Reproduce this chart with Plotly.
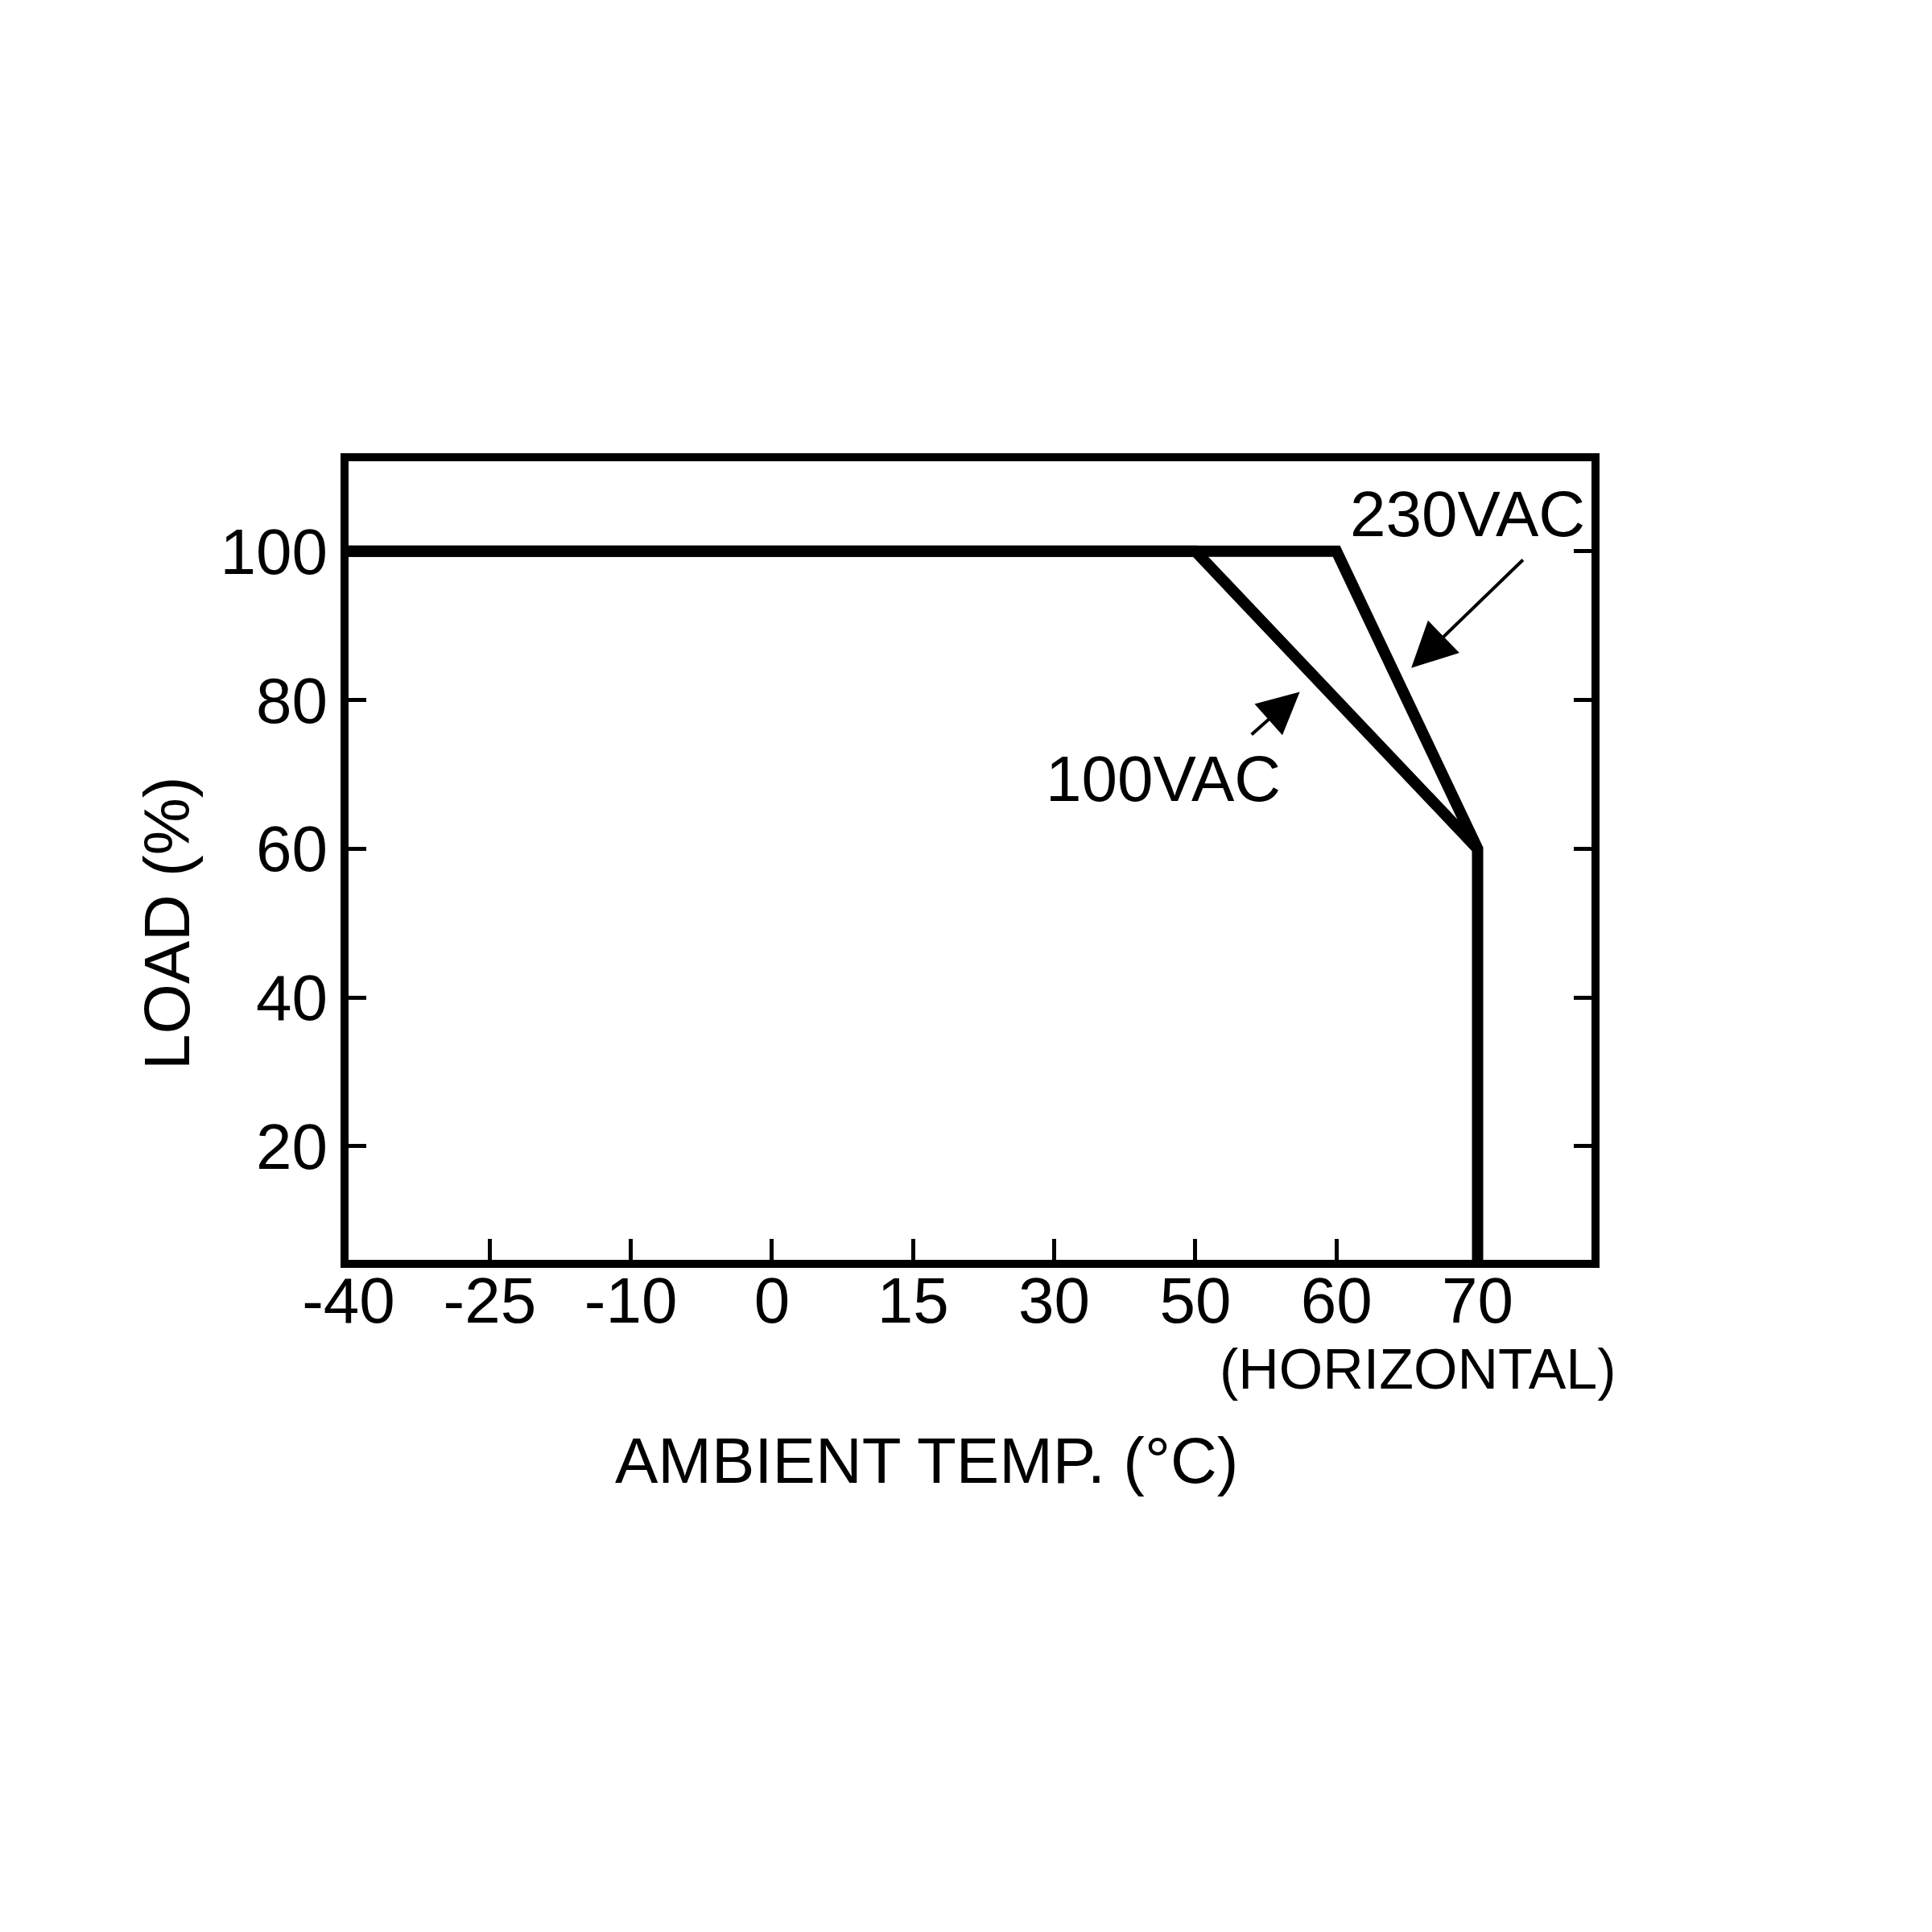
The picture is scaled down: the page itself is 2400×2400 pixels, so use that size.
"""
Derating curve: load vs ambient temperature
"""

import numpy as np
import plotly.graph_objects as go

# tick labels on the temperature axis (equally spaced on the drawing)
temp_ticks = [-40, -25, -10, 0, 15, 30, 50, 60, 70]
load_ticks = [20, 40, 60, 80, 100]

# 100VAC curve
temps_100 = [-40, 50, 70]
load_100 = [100, 100, 60]

# 230VAC curve
temps_230 = [-40, 60, 70, 70]
load_230 = [100, 100, 60, 0]


def tpos(t):
    """map a temperature onto the evenly spaced tick slots"""
    return np.interp(t, temp_ticks, np.arange(len(temp_ticks)))


FONT = "Liberation Sans, Arial, sans-serif"

fig = go.Figure()
fig.add_trace(go.Scatter(x=tpos(temps_100), y=load_100, mode='lines',
                         line=dict(color='black', width=14), name='100VAC'))
fig.add_trace(go.Scatter(x=tpos(temps_230), y=load_230, mode='lines',
                         line=dict(color='black', width=14), name='230VAC'))

# arrows
fig.add_annotation(x=7.53, y=84.3, ax=8.33, ay=99.0, xref='x', yref='y',
                   axref='x', ayref='y', text='', showarrow=True,
                   arrowhead=2, arrowsize=2.8, arrowwidth=4, arrowcolor='black')
fig.add_annotation(x=6.74, y=81.1, ax=6.39, ay=75.2, xref='x', yref='y',
                   axref='x', ayref='y', text='', showarrow=True,
                   arrowhead=2, arrowsize=2.6, arrowwidth=4, arrowcolor='black')

# labels
fig.add_annotation(x=7.93, y=105.0, xref='x', yref='y', text='230VAC',
                   showarrow=False, font=dict(size=80, color='black', family=FONT))
fig.add_annotation(x=5.77, y=69.4, xref='x', yref='y', text='100VAC',
                   showarrow=False, font=dict(size=80, color='black', family=FONT))
# paper coords are relative to the plot area
fig.add_annotation(x=0.8607, y=-0.1371, xref='paper', yref='paper',
                   xanchor='center', yanchor='middle',
                   text='(HORIZONTAL)', showarrow=False,
                   font=dict(size=70, color='black', family=FONT))
fig.add_annotation(x=0.465, y=-0.252, xref='paper', yref='paper',
                   xanchor='center', yanchor='middle',
                   text='AMBIENT TEMP. (°C)', showarrow=False,
                   font=dict(size=80, color='black', family=FONT))
fig.add_annotation(x=-0.1457, y=0.4214, xref='paper', yref='paper',
                   xanchor='center', yanchor='middle',
                   text='LOAD (%)', textangle=-90, showarrow=False,
                   font=dict(size=80, color='black', family=FONT))

fig.update_layout(
    width=2400, height=2400,
    paper_bgcolor='white', plot_bgcolor='white',
    showlegend=False,
    margin=dict(l=425, r=431, t=565, b=843),
    font=dict(family=FONT, size=80, color='black'),
    xaxis=dict(range=[0, 8.807], tickvals=list(range(len(temp_ticks))),
               ticktext=[str(t) for t in temp_ticks],
               showgrid=False, zeroline=False,
               showline=True, linecolor='black', linewidth=10, mirror=True,
               ticks='inside', ticklen=26, tickwidth=5, tickcolor='black',
               ticklabelstandoff=-28),
    yaxis=dict(range=[4.72, 112.1], tickvals=load_ticks,
               showgrid=False, zeroline=False,
               showline=True, linecolor='black', linewidth=10, mirror='ticks',
               ticks='inside', ticklen=22, tickwidth=5, tickcolor='black',
               ticklabelstandoff=0),
)

fig.write_html("out.html")
